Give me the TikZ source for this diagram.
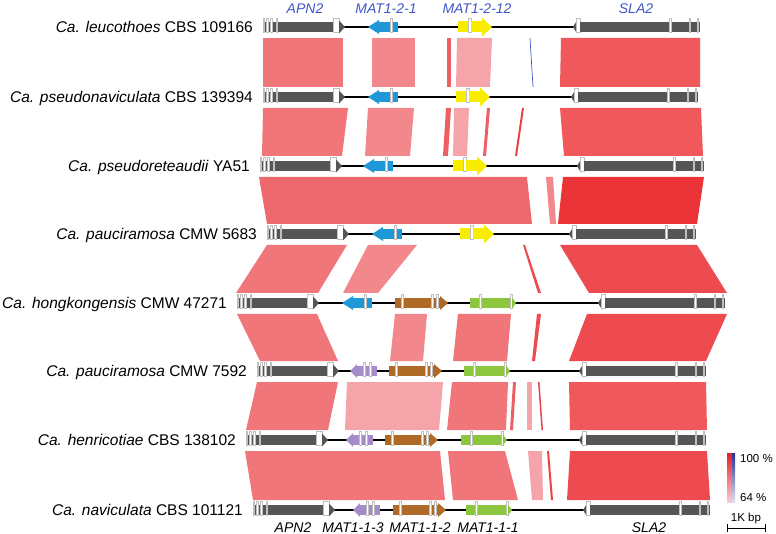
\documentclass[tikz,border=0pt]{standalone}
\usepackage{fontspec}
\setmainfont{Liberation Sans}
\definecolor{gdark}{RGB}{85,85,85}
\definecolor{gblue}{RGB}{30,152,215}
\definecolor{gyel}{RGB}{248,236,0}
\definecolor{gbrown}{RGB}{176,106,40}
\definecolor{ggreen}{RGB}{140,198,62}
\definecolor{gpurp}{RGB}{165,140,200}
\definecolor{labblue}{RGB}{65,85,200}
\definecolor{bA}{RGB}{240,118,122}
\definecolor{bB}{RGB}{242,135,140}
\definecolor{bC}{RGB}{245,165,170}
\definecolor{bD}{RGB}{238,95,100}
\definecolor{bE}{RGB}{240,88,92}
\definecolor{bF}{RGB}{235,52,56}
\definecolor{bG}{RGB}{238,75,80}
\definecolor{bH}{RGB}{235,65,70}
\definecolor{bI}{RGB}{238,105,110}
\newcommand{\bnd}[7]{\fill[#1] (#4,#2) -- (#5,#2) -- (#7,#3) -- (#6,#3) -- cycle;}
\newcommand{\intr}[3]{\filldraw[fill=white,draw=gray!50,line width=0.5pt] (#1,#3-9) rectangle (#2,#3+5);}
\newcommand{\trk}[3]{\draw[line width=1.6pt,black] (#1,#3) -- (#2,#3);}
\newcommand{\apnGene}[2]{%
  \fill[gdark] (#1,#2-5) rectangle (#1+70,#2+5);
  \intr{#1}{#1+1.5}{#2}\intr{#1+3.5}{#1+5}{#2}\intr{#1+7.5}{#1+9}{#2}\intr{#1+13}{#1+14.5}{#2}
  \intr{#1+70}{#1+76}{#2}
  \fill[gdark] (#1+76,#2-6.5) -- (#1+82,#2) -- (#1+76,#2+6.5) -- cycle;}
\newcommand{\slaGene}[2]{%
  \fill[gdark] (#1,#2) -- (#1+4,#2-6.5) -- (#1+4,#2+6.5) -- cycle;
  \intr{#1+3.5}{#1+7}{#2}
  \fill[gdark] (#1+7,#2-5) rectangle (#1+127,#2+5);
  \intr{#1+96.5}{#1+98}{#2}\intr{#1+116}{#1+117.5}{#2}\intr{#1+124}{#1+125.5}{#2}}
\newcommand{\mTwoOne}[2]{%
  \fill[gblue] (#1,#2) -- (#1+11,#2-7) -- (#1+11,#2+7) -- cycle;
  \fill[gblue] (#1+11,#2-5) rectangle (#1+22,#2+5);
  \intr{#1+22}{#1+24.5}{#2}
  \fill[gblue] (#1+24.5,#2-5) rectangle (#1+30,#2+5);}
\newcommand{\mTwoTwelve}[2]{%
  \fill[gyel] (#1,#2-5.5) rectangle (#1+10,#2+5.5);
  \intr{#1+10}{#1+13}{#2}
  \fill[gyel] (#1+13,#2-5.5) rectangle (#1+24,#2+5.5);
  \fill[gyel] (#1+24,#2-9.5) -- (#1+34,#2) -- (#1+24,#2+9.5) -- cycle;}
\newcommand{\mOneThree}[2]{%
  \fill[gpurp] (#1,#2) -- (#1+7,#2-7) -- (#1+7,#2+7) -- cycle;
  \fill[gpurp] (#1+7,#2-5) rectangle (#1+27,#2+5);
  \intr{#1+13}{#1+15}{#2}\intr{#1+19}{#1+21}{#2}}
\newcommand{\mOneTwo}[2]{%
  \fill[gbrown] (#1,#2-5) rectangle (#1+45,#2+5);
  \intr{#1+6}{#1+8}{#2}\intr{#1+36}{#1+38}{#2}\intr{#1+41}{#1+43}{#2}
  \fill[gbrown] (#1+45,#2-7) -- (#1+53,#2) -- (#1+45,#2+7) -- cycle;}
\newcommand{\mOneOne}[2]{%
  \fill[ggreen] (#1,#2-5) rectangle (#1+40,#2+5);
  \intr{#1+9}{#1+11}{#2}\intr{#1+40}{#1+42}{#2}
  \fill[ggreen] (#1+42,#2-5.5) -- (#1+46,#2) -- (#1+42,#2+5.5) -- cycle;}
\tikzset{strain/.style={anchor=base east,font=\fontsize{15.5}{18}\selectfont,inner sep=0pt},
  glabtop/.style={anchor=base,font=\fontsize{14}{16}\selectfont\itshape,text=labblue,inner sep=0pt},
  glabbot/.style={anchor=base,font=\fontsize{14}{16}\selectfont\itshape,text=black,inner sep=0pt},
  legtxt/.style={font=\fontsize{11.5}{13}\selectfont,inner sep=0pt}}
\begin{document}
\begin{tikzpicture}[x=1pt,y=-1pt]
\useasboundingbox (0,0) rectangle (776,534);
% ---------- bands ----------
% 1-2
\bnd{bA}{38}{87}{263}{343}{263}{343}
\bnd{bB}{38}{87}{372}{415}{372}{415}
\bnd{bD}{38}{87}{447}{451}{447}{451}
\bnd{bC}{38}{87}{457}{492}{456}{490}
\draw[labblue,line width=0.7pt] (530,38) -- (533,87);
\bnd{bE}{38}{87}{561}{700}{560}{700}
% 2-3
\bnd{bA}{108}{156}{263}{348}{262}{342}
\bnd{bB}{108}{156}{368}{414}{365}{410}
\bnd{bD}{108}{156}{446}{451}{443}{448}
\bnd{bC}{108}{156}{454}{469}{453}{467}
\bnd{bD}{108}{156}{487}{490}{483}{486}
\bnd{bH}{108}{156}{522}{524}{515}{517}
\bnd{bE}{108}{156}{560}{701}{564}{703}
% 3-4
\bnd{bI}{177}{224}{259}{527}{267}{532}
\bnd{bB}{177}{224}{546}{553}{550}{556}
\bnd{bF}{177}{224}{563}{704}{558}{697}
% 4-5
\bnd{bA}{245}{293}{267}{347}{236}{318}
\bnd{bB}{245}{293}{368}{417}{343}{378}
\bnd{bG}{245}{293}{523}{525}{538}{541}
\bnd{bG}{245}{293}{560}{697}{589}{727}
% 5-6
\bnd{bA}{314}{361}{237}{317}{260}{338}
\bnd{bB}{314}{361}{395}{427}{390}{423}
\bnd{bA}{314}{361}{458}{511}{453}{507}
\bnd{bG}{314}{361}{537}{541}{532}{535}
\bnd{bG}{314}{361}{587}{727}{569}{706}
% 6-7
\bnd{bA}{382}{430}{257}{338}{246}{328}
\bnd{bC}{382}{430}{347}{443}{345}{439}
\bnd{bA}{382}{430}{452}{508}{447}{506}
\bnd{bD}{382}{430}{513}{516}{510}{513}
\bnd{bC}{382}{430}{527}{532}{527}{532}
\bnd{bH}{382}{430}{538}{539.5}{541.5}{543}
\bnd{bE}{382}{430}{569}{706}{570}{707}
% 7-8
\bnd{bA}{451}{500}{245}{440}{253}{445}
\bnd{bA}{451}{500}{448}{505}{453}{518}
\bnd{bC}{451}{500}{528}{542}{532}{543}
\bnd{bH}{451}{500}{547}{549}{551}{553}
\bnd{bG}{451}{500}{570}{707}{567}{710}
% ---------- tracks ----------
% row 1
\trk{263}{700}{27}\apnGene{263}{27}\mTwoOne{368}{27}\mTwoTwelve{458}{27}\slaGene{573}{27}
\node[strain] (r1) at (253,32.6) {\textit{Ca. leucothoes} CBS 109166};
% row 2
\trk{263}{698}{97}\apnGene{263}{97}\mTwoOne{368}{97}\mTwoTwelve{456}{97}\slaGene{571}{97}
\node[strain] (r2) at (253,102.6) {\textit{Ca. pseudonaviculata} CBS 139394};
% row 3
\trk{260}{704}{166}\apnGene{260}{166}\mTwoOne{363}{166}\mTwoTwelve{453}{166}\slaGene{577}{166}
\node[strain] (r3) at (250,171.6) {\textit{Ca. pseudoreteaudii} YA51};
% row 4
\trk{267}{696}{234}\apnGene{267}{234}\mTwoOne{372}{234}\mTwoTwelve{460}{234}\slaGene{569}{234}
\node[strain] (r4) at (257,239.6) {\textit{Ca. pauciramosa} CMW 5683};
% row 5
\trk{237}{725}{303}\apnGene{237}{303}\mTwoOne{342}{303}\mOneTwo{395}{303}\mOneOne{470}{303}\slaGene{598}{303}
\node[strain] (r5) at (227,308.6) {\textit{Ca. hongkongensis} CMW 47271};
% row 6
\trk{257}{706}{371}\apnGene{257}{371}\mOneThree{350}{371}\mOneTwo{389}{371}\mOneOne{464}{371}\slaGene{579}{371}
\node[strain] (r6) at (247,376.6) {\textit{Ca. pauciramosa} CMW 7592};
% row 7
\trk{246}{706}{440}\apnGene{246}{440}\mOneThree{346}{440}\mOneTwo{385}{440}\mOneOne{461}{440}\slaGene{579}{440}
\node[strain] (r7) at (236,445.6) {\textit{Ca. henricotiae} CBS 138102};
% row 8
\trk{253}{710}{510}\apnGene{253}{510}\mOneThree{353}{510}\mOneTwo{393}{510}\mOneOne{466}{510}\slaGene{583}{510}
\node[strain] (r8) at (243,515.6) {\textit{Ca. naviculata} CBS 101121};
% ---------- gene labels ----------
\node[glabtop] (t1) at (305,14) {APN2};
\node[glabtop] (t2) at (386,14) {MAT1-2-1};
\node[glabtop] (t3) at (477,14) {MAT1-2-12};
\node[glabtop] (t4) at (636,14) {SLA2};
\node[glabbot] (b1) at (293,532.5) {APN2};
\node[glabbot] (b2) at (353,532.5) {MAT1-1-3};
\node[glabbot] (b3) at (420,532.5) {MAT1-1-2};
\node[glabbot] (b4) at (488,532.5) {MAT1-1-1};
\node[glabbot] (b5) at (649,532.5) {SLA2};
% ---------- legend ----------
\shade[top color={rgb,255:red,230;green,30;blue,40},bottom color={rgb,255:red,248;green,205;blue,210}] (727,453) rectangle (732,502);
\shade[top color={rgb,255:red,40;green,50;blue,150},bottom color={rgb,255:red,225;green,225;blue,242}] (732,453) rectangle (735,502);
\node[legtxt,anchor=base west] (l1) at (740,462) {100 \%};
\node[legtxt,anchor=base west] (l2) at (740,501) {64 \%};
\node[legtxt,anchor=base] (l3) at (746,521.5) {1K bp};
\coordinate (sbL) at (727,528.3);
\coordinate (sbR) at (765,528.3);
\draw[line width=0.8pt] (sbL) -- (sbR);
\draw[line width=0.8pt] ([yshift=4pt]sbL) -- ([yshift=-4pt]sbL);
\draw[line width=0.8pt] ([yshift=4pt]sbR) -- ([yshift=-4pt]sbR);
\end{tikzpicture}
\end{document}
